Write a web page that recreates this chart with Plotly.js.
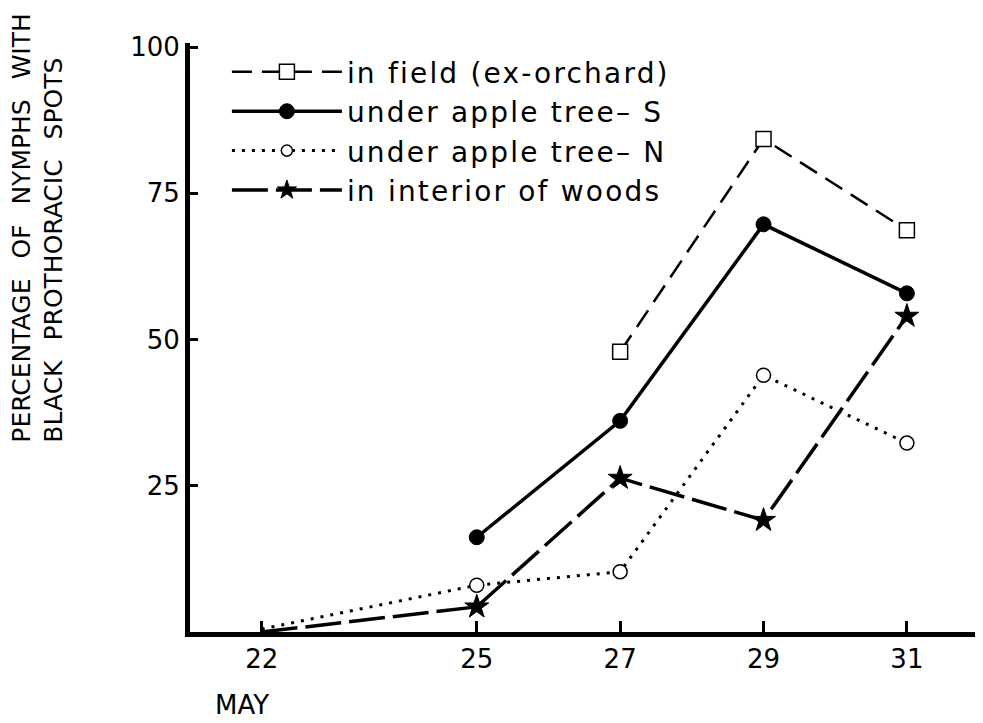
<!DOCTYPE html>
<html>
<head>
<meta charset="utf-8">
<script src="https://cdn.plot.ly/plotly-3.0.1.min.js"></script>
<style>html,body{margin:0;padding:0;background:#fff;}#chart{width:983px;height:723px;}
.legendtext{letter-spacing:2.2px;}
.annotation-text{word-spacing:12px;}</style>
</head>
<body>
<div id="chart"></div>
<script>
// Days in May
const daysField = [27, 29, 31];
const valuesField = [47.9, 84.3, 68.7];

const daysAppleS = [25, 27, 29, 31];
const valuesAppleS = [16.2, 36.1, 69.7, 57.9];

const daysAppleN = [22, 25, 27, 29, 31];
const valuesAppleN = [0.5, 8.0, 10.3, 43.9, 32.3];

const daysWoods = [22, 25, 27, 29, 31];
const valuesWoods = [0, 4.3, 26.3, 19.1, 54.0];

const xTicks = [22, 25, 27, 29, 31];
const yTicks = [25, 50, 75, 100];

const seriesNames = ["in field (ex-orchard)", "under apple tree\u2013 S", "under apple tree\u2013 N", "in interior of woods"];

const FONT = "DejaVu Sans, sans-serif";

const traces = [
  {
    x: daysField, y: valuesField, name: seriesNames[0], legendgroup: "a",
    mode: "lines+markers",
    line: {color: "black", width: 2.5, dash: "20px,10px"},
    marker: {symbol: "square", size: 15, color: "white", opacity: 1, line: {color: "black", width: 1.5}},
  },
  {
    x: daysAppleS, y: valuesAppleS, name: seriesNames[1], legendgroup: "b",
    mode: "lines+markers",
    line: {color: "black", width: 3.5},
    marker: {symbol: "circle", size: 15, color: "black", opacity: 1, line: {color: "black", width: 1}},
  },
  {
    x: daysAppleN, y: valuesAppleN, name: seriesNames[2], legendgroup: "c",
    mode: "lines+markers",
    line: {color: "black", width: 3, dash: "3px,7px"},
    marker: {symbol: "circle", size: daysAppleN.map((d, i) => i === 0 ? 0 : 14), color: "white", opacity: 1, line: {color: "black", width: 1.5}},
  },
  {
    x: daysWoods, y: valuesWoods, name: seriesNames[3], legendgroup: "d",
    mode: "lines+markers",
    line: {color: "black", width: 3.5, dash: "36px,8px"},
    marker: {symbol: "star", size: daysWoods.map((d, i) => i === 0 ? 0 : 18), color: "black", opacity: 1, line: {color: "black", width: 1}},
  },
];

const layout = {
  width: 983, height: 723,
  margin: {l: 190, r: 8, t: 43, b: 91},
  paper_bgcolor: "white", plot_bgcolor: "white",
  font: {family: FONT, color: "black", size: 24},
  showlegend: true,
  legend: {
    x: 0.047, y: 0.993, xanchor: "left", yanchor: "top",
    font: {family: FONT, size: 28, color: "black"},
    tracegroupgap: 9, traceorder: "normal", itemwidth: 110,
    bgcolor: "rgba(0,0,0,0)",
  },
  xaxis: {
    range: [21.0, 31.95], tickvals: xTicks, ticktext: xTicks.map(String),
    ticks: "inside", ticklen: 11, tickwidth: 3, tickcolor: "black",
    showline: true, linewidth: 5, linecolor: "black",
    showgrid: false, zeroline: false,
    tickfont: {family: FONT, size: 26, color: "black"},
  },
  yaxis: {
    range: [0, 100.7], tickvals: yTicks, ticktext: yTicks.map(String),
    ticks: "inside", ticklen: 8, tickwidth: 3, tickcolor: "black",
    showline: true, linewidth: 5, linecolor: "black",
    showgrid: false, zeroline: false,
    tickfont: {family: FONT, size: 26, color: "black"},
  },
  annotations: [
    {
      text: "MAY", xref: "paper", yref: "paper", x: 0.066, y: -0.124,
      showarrow: false, font: {family: FONT, size: 26, color: "black"},
      xanchor: "center", yanchor: "middle",
    },
    {
      text: "PERCENTAGE OF NYMPHS WITH<br>BLACK PROTHORACIC SPOTS",
      xref: "paper", yref: "paper", x: -0.194, y: 0.686, textangle: -90, align: "left",
      showarrow: false, font: {family: FONT, size: 25, color: "black"},
      xanchor: "center", yanchor: "middle",
    },
  ],
};

Plotly.newPlot("chart", traces, layout, {displayModeBar: false, staticPlot: true});
</script>
</body>
</html>
